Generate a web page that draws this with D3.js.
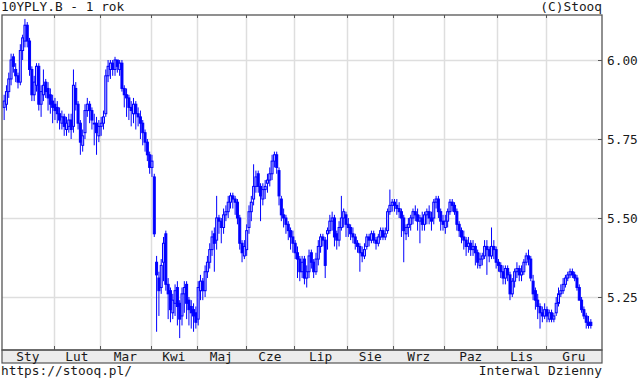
<!DOCTYPE html>
<html><head><meta charset="utf-8">
<script src="https://cdn.jsdelivr.net/npm/d3@7"></script>
<style>
html,body{margin:0;padding:0;background:#fff;}
svg{display:block;}
text{font-family:"DejaVu Sans Mono",monospace;font-size:12.8px;fill:#1a1a1a;}
</style></head>
<body><svg id="c" width="642" height="380"></svg>
<script>
const title = "10YPLY.B - 1 rok";
const copyright = "(C)Stooq";
const footerLeft = "https://stooq.pl/";
const footerRight = "Interwal Dzienny";
const months = ["Sty","Lut","Mar","Kwi","Maj","Cze","Lip","Sie","Wrz","Paz","Lis","Gru"];
const monthDays = [22,20,22,20,21,21,23,20,22,23,21,20];
const yTicks = [5.25, 5.50, 5.75, 6.00];

const open = [
5.85,5.86,5.90,5.94,6.01,5.97,5.95,5.93,6.03,6.06,6.11,6.06,5.97,5.89,5.92,5.98,5.86,5.89,5.93,5.91,5.89,5.87,
5.86,5.85,5.83,5.80,5.82,5.78,5.79,5.81,5.79,5.91,5.86,5.80,5.73,5.77,5.84,5.86,5.84,5.80,5.80,5.76,
5.79,5.80,5.83,5.95,5.97,5.99,5.97,6.00,5.97,5.99,5.91,5.89,5.88,5.85,5.83,5.86,5.83,5.82,5.80,5.77,5.74,5.70,
5.66,5.63,5.36,5.31,5.28,5.36,5.45,5.29,5.27,5.20,5.23,5.28,5.23,5.19,5.26,5.29,5.24,5.22,5.21,5.20,
5.18,5.27,5.30,5.27,5.33,5.36,5.40,5.45,5.43,5.50,5.49,5.47,5.51,5.52,5.55,5.57,5.56,5.55,5.50,5.42,5.38,
5.40,5.47,5.52,5.56,5.60,5.64,5.60,5.56,5.59,5.61,5.62,5.64,5.68,5.70,5.65,5.56,5.51,5.50,5.48,5.46,5.44,
5.42,5.39,5.37,5.33,5.37,5.31,5.33,5.39,5.36,5.33,5.37,5.41,5.44,5.43,5.45,5.46,5.49,5.50,5.45,5.43,5.47,5.50,5.51,
5.48,5.47,5.45,5.44,5.42,5.41,5.39,5.38,5.41,5.44,5.43,5.45,5.43,5.42,5.44,5.46,5.44,5.46,5.52,5.54,
5.55,5.54,5.53,5.52,5.50,5.45,5.47,5.48,5.50,5.52,5.51,5.49,5.50,5.48,5.51,5.52,5.50,5.50,5.55,5.56,5.52,5.49,
5.47,5.49,5.52,5.55,5.54,5.52,5.48,5.46,5.44,5.43,5.41,5.42,5.40,5.41,5.39,5.35,5.37,5.38,5.41,5.40,5.38,5.41,5.40,
5.36,5.35,5.33,5.31,5.34,5.32,5.26,5.30,5.33,5.34,5.32,5.33,5.36,5.38,5.37,5.30,5.27,5.24,5.22,5.20,5.19,
5.21,5.18,5.20,5.18,5.20,5.23,5.26,5.27,5.29,5.31,5.32,5.33,5.32,5.31,5.28,5.24,5.21,5.19,5.17,5.17
];
const high = [
5.89,5.92,5.96,6.02,6.02,5.99,5.96,6.05,6.08,6.13,6.12,6.07,5.98,5.95,5.99,5.99,5.92,5.97,5.94,5.93,5.91,5.89,
5.88,5.87,5.85,5.84,5.83,5.82,5.83,5.83,5.97,5.93,5.87,5.81,5.78,5.86,5.88,5.87,5.85,5.83,5.82,5.81,
5.82,5.84,5.97,6.00,6.00,6.00,6.01,6.00,6.00,6.00,5.92,5.91,5.89,5.87,5.88,5.87,5.85,5.84,5.81,5.78,5.75,5.71,
5.70,5.64,5.38,5.33,5.37,5.44,5.46,5.31,5.28,5.26,5.29,5.30,5.24,5.28,5.30,5.30,5.25,5.24,5.23,5.22,
5.30,5.32,5.31,5.35,5.38,5.42,5.46,5.47,5.57,5.51,5.50,5.53,5.54,5.57,5.58,5.58,5.57,5.56,5.51,5.43,5.43,
5.48,5.54,5.57,5.67,5.65,5.65,5.61,5.61,5.62,5.64,5.66,5.70,5.71,5.71,5.66,5.57,5.53,5.51,5.49,5.47,5.46,
5.43,5.41,5.38,5.38,5.38,5.35,5.40,5.40,5.37,5.39,5.43,5.45,5.45,5.44,5.47,5.51,5.52,5.51,5.46,5.49,5.57,5.53,5.52,
5.50,5.48,5.47,5.45,5.43,5.42,5.41,5.42,5.45,5.45,5.46,5.46,5.44,5.45,5.47,5.47,5.47,5.53,5.59,5.56,
5.56,5.56,5.55,5.53,5.51,5.48,5.50,5.51,5.53,5.54,5.53,5.51,5.52,5.52,5.53,5.54,5.52,5.56,5.57,5.57,5.53,5.51,
5.51,5.53,5.56,5.56,5.55,5.53,5.49,5.47,5.46,5.44,5.44,5.43,5.43,5.42,5.40,5.39,5.39,5.43,5.43,5.41,5.47,5.43,5.41,
5.37,5.36,5.35,5.35,5.35,5.33,5.31,5.34,5.36,5.35,5.35,5.37,5.39,5.40,5.38,5.32,5.28,5.26,5.23,5.22,5.23,
5.22,5.21,5.21,5.20,5.25,5.28,5.29,5.31,5.32,5.33,5.34,5.34,5.33,5.32,5.29,5.25,5.22,5.20,5.19,5.18
];
const low = [
5.81,5.84,5.88,5.92,5.96,5.93,5.91,5.92,6.00,6.04,6.04,5.95,5.87,5.87,5.90,5.84,5.82,5.87,5.88,5.84,5.83,5.80,
5.81,5.80,5.78,5.78,5.76,5.76,5.77,5.75,5.77,5.84,5.78,5.70,5.71,5.75,5.82,5.80,5.78,5.73,5.70,5.74,
5.76,5.78,5.82,5.93,5.94,5.95,5.95,5.96,5.95,5.90,5.85,5.82,5.81,5.79,5.80,5.78,5.79,5.75,5.73,5.71,5.68,5.64,
5.63,5.44,5.14,5.19,5.26,5.30,5.27,5.18,5.17,5.18,5.19,5.16,5.12,5.16,5.20,5.18,5.16,5.15,5.14,5.15,
5.16,5.24,5.24,5.25,5.31,5.34,5.38,5.33,5.40,5.45,5.42,5.45,5.49,5.50,5.53,5.53,5.51,5.48,5.40,5.36,5.37,
5.38,5.45,5.49,5.54,5.58,5.58,5.49,5.54,5.56,5.58,5.60,5.62,5.66,5.64,5.54,5.49,5.47,5.45,5.43,5.40,5.39,
5.37,5.31,5.30,5.31,5.29,5.28,5.31,5.34,5.31,5.32,5.35,5.39,5.41,5.31,5.40,5.45,5.46,5.41,5.40,5.41,5.46,5.47,5.44,
5.44,5.43,5.42,5.40,5.39,5.33,5.36,5.37,5.40,5.41,5.42,5.42,5.40,5.41,5.43,5.43,5.43,5.45,5.51,5.52,
5.52,5.51,5.50,5.44,5.36,5.43,5.44,5.46,5.48,5.49,5.46,5.42,5.46,5.46,5.48,5.48,5.46,5.48,5.53,5.50,5.46,5.46,
5.45,5.47,5.51,5.52,5.51,5.46,5.44,5.42,5.40,5.38,5.39,5.38,5.38,5.35,5.34,5.34,5.35,5.37,5.32,5.36,5.37,5.37,5.34,
5.33,5.31,5.29,5.29,5.30,5.24,5.25,5.28,5.31,5.30,5.30,5.32,5.35,5.35,5.30,5.24,5.21,5.18,5.15,5.17,5.18,
5.17,5.17,5.17,5.17,5.19,5.22,5.25,5.26,5.28,5.30,5.31,5.31,5.30,5.27,5.24,5.20,5.18,5.15,5.15,5.15
];
const close = [
5.87,5.90,5.94,6.00,5.98,5.95,5.93,6.03,6.07,6.11,6.06,5.97,5.89,5.93,5.98,5.86,5.90,5.92,5.90,5.88,5.86,5.85,
5.84,5.83,5.81,5.82,5.79,5.80,5.81,5.78,5.92,5.86,5.80,5.74,5.76,5.84,5.86,5.84,5.81,5.80,5.77,5.79,
5.80,5.82,5.95,5.98,5.99,5.97,6.00,5.98,5.99,5.91,5.89,5.88,5.85,5.84,5.86,5.83,5.82,5.80,5.77,5.74,5.70,5.66,
5.68,5.45,5.32,5.27,5.35,5.42,5.29,5.26,5.21,5.24,5.27,5.22,5.18,5.26,5.28,5.23,5.21,5.20,5.19,5.17,
5.28,5.30,5.27,5.33,5.36,5.40,5.44,5.42,5.50,5.49,5.47,5.51,5.52,5.55,5.57,5.56,5.55,5.50,5.42,5.39,5.41,
5.46,5.52,5.55,5.60,5.63,5.60,5.57,5.59,5.60,5.62,5.64,5.68,5.70,5.66,5.57,5.51,5.50,5.48,5.46,5.44,5.42,
5.39,5.37,5.33,5.36,5.31,5.33,5.38,5.36,5.33,5.37,5.41,5.44,5.43,5.35,5.46,5.49,5.50,5.44,5.43,5.47,5.50,5.52,5.48,
5.47,5.45,5.44,5.42,5.41,5.39,5.38,5.40,5.44,5.43,5.45,5.43,5.42,5.44,5.46,5.44,5.45,5.52,5.54,5.55,
5.54,5.53,5.52,5.50,5.46,5.47,5.48,5.50,5.52,5.51,5.49,5.50,5.48,5.51,5.52,5.50,5.49,5.55,5.56,5.52,5.49,5.48,
5.49,5.52,5.55,5.54,5.52,5.48,5.46,5.44,5.43,5.41,5.42,5.40,5.41,5.39,5.36,5.37,5.38,5.41,5.40,5.38,5.41,5.40,5.36,
5.35,5.33,5.31,5.34,5.32,5.26,5.30,5.33,5.34,5.32,5.33,5.36,5.38,5.37,5.31,5.26,5.24,5.22,5.20,5.19,5.21,
5.19,5.20,5.18,5.19,5.23,5.26,5.27,5.29,5.31,5.32,5.33,5.32,5.31,5.28,5.24,5.21,5.19,5.17,5.16,5.16
];

const N = close.length;
const candles = close.map((c,i)=>({i, o:open[i], h:high[i], l:low[i], c}));

const L = 2, R = 602, T = 15, B = 350, BAND = 363;
const svg = d3.select("#c");

const x = d3.scaleLinear().domain([0, N]).range([3, 592]);
const y = d3.scaleLinear().domain([5.25, 6.00]).range([297, 60]);

// month boundaries (index of first day)
const starts = [];
let acc = 0;
monthDays.forEach(d => { starts.push(acc); acc += d; });
const bounds = starts.slice(1).map(s => x(s));

// background
svg.append("rect").attr("x",0).attr("y",0).attr("width",642).attr("height",380).attr("fill","#fff");

// grid
const g = svg.append("g");
g.selectAll("line.v").data(bounds).join("line")
  .attr("x1",d=>Math.round(d)+0.5).attr("x2",d=>Math.round(d)+0.5)
  .attr("y1",T).attr("y2",B).attr("stroke","#dedede").attr("stroke-width",1.5);
g.selectAll("line.h").data(yTicks).join("line")
  .attr("x1",L).attr("x2",R)
  .attr("y1",d=>Math.round(y(d))+0.5).attr("y2",d=>Math.round(y(d))+0.5)
  .attr("stroke","#dedede").attr("stroke-width",1.5);

// candles
const cw = 2;
const cg = svg.append("g");
cg.selectAll("line").data(candles).join("line")
  .attr("x1",d=>x(d.i)+1.15).attr("x2",d=>x(d.i)+1.15)
  .attr("y1",d=>y(d.h)).attr("y2",d=>y(d.l))
  .attr("stroke","#0000ff").attr("stroke-width",1);
cg.selectAll("rect").data(candles).join("rect")
  .attr("x",d=>x(d.i)+1.15-cw/2)
  .attr("width",cw)
  .attr("y",d=>y(Math.max(d.o,d.c)))
  .attr("height",d=>Math.max(0.8, Math.abs(y(d.o)-y(d.c))))
  .attr("fill",d=> d.c>=d.o ? "#b8b8ff" : "#0000ff")
  .attr("stroke","#0000ff").attr("stroke-width",1);

// bottom band
svg.append("rect").attr("x",L).attr("y",B).attr("width",R-L).attr("height",BAND-B)
  .attr("fill","#ececec").attr("stroke","#555").attr("stroke-width",1.2);

// frame
svg.append("rect").attr("x",L).attr("y",T).attr("width",R-L).attr("height",B-T)
  .attr("fill","none").attr("stroke","#555").attr("stroke-width",1.3);

// month ticks top and bottom
svg.append("g").selectAll("line").data(bounds).join("line")
  .attr("x1",d=>Math.round(d)+0.5).attr("x2",d=>Math.round(d)+0.5)
  .attr("y1",B-4).attr("y2",B).attr("stroke","#555");
svg.append("g").selectAll("line").data(bounds).join("line")
  .attr("x1",d=>Math.round(d)+0.5).attr("x2",d=>Math.round(d)+0.5)
  .attr("y1",T).attr("y2",T+3).attr("stroke","#555");

// month labels
const mids = starts.map((s,k)=>{
  const a = k===0 ? L : x(s);
  const b = k===starts.length-1 ? R : x(starts[k+1]);
  return (a+b)/2;
});
svg.append("g").selectAll("text").data(months).join("text")
  .attr("x",(d,k)=>mids[k]).attr("y",B+11)
  .attr("text-anchor","middle").text(d=>d);

// y axis
const yAxis = d3.axisRight(y).tickValues(yTicks).tickFormat(d3.format(".2f"))
  .tickSizeInner(-4).tickSizeOuter(0).tickPadding(5);
const ya = svg.append("g").attr("transform",`translate(${R},0)`).call(yAxis);
ya.select(".domain").remove();
ya.selectAll("line").attr("stroke","#555");
ya.selectAll("text").attr("font-family","DejaVu Sans Mono").attr("font-size","12.8px").attr("fill","#1a1a1a");

// titles
svg.append("text").attr("x",1).attr("y",11).text(title);
svg.append("text").attr("x",R).attr("y",11).attr("text-anchor","end").text(copyright);
svg.append("text").attr("x",1).attr("y",375).text(footerLeft);
svg.append("text").attr("x",R).attr("y",375).attr("text-anchor","end").text(footerRight);
</script></body></html>
